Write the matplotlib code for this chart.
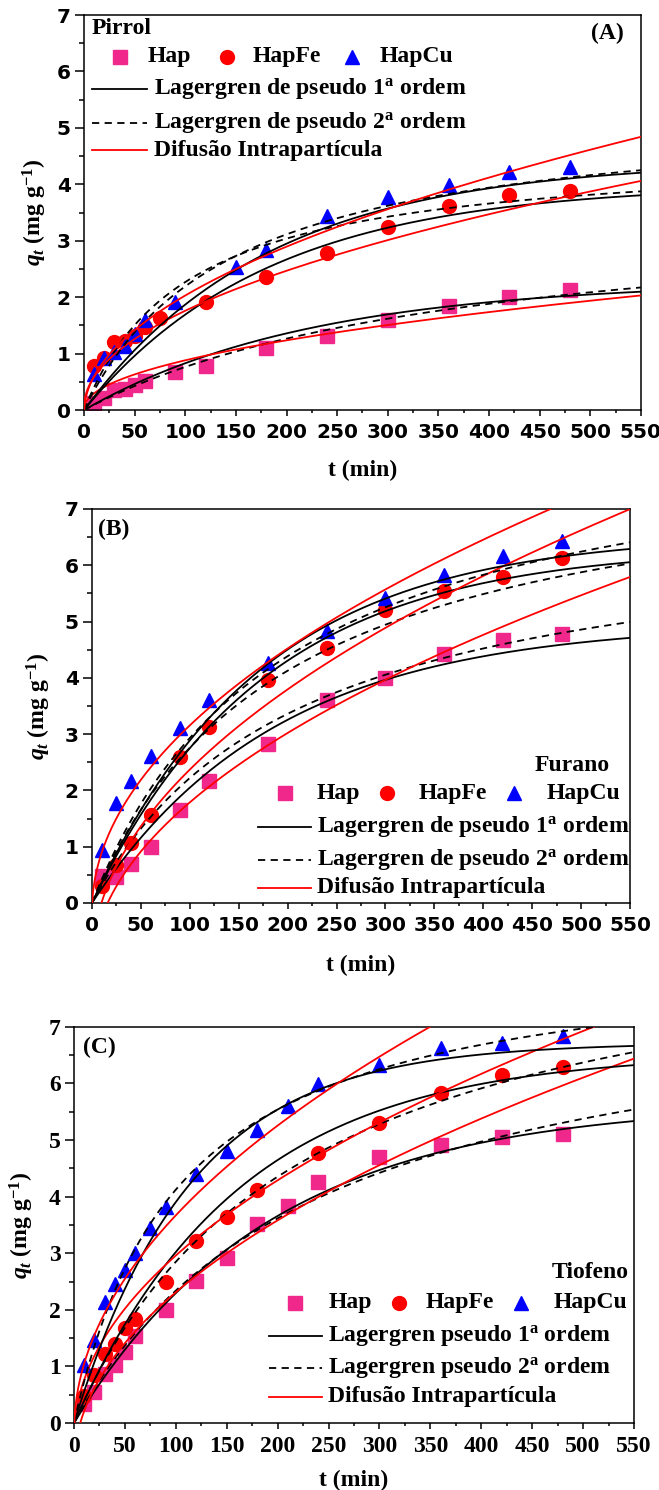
import numpy as np
import matplotlib
matplotlib.use('Agg')
import matplotlib.pyplot as plt
from matplotlib.ticker import MultipleLocator

plt.rcParams['mathtext.fontset'] = 'custom'
plt.rcParams['mathtext.rm'] = 'Liberation Serif:bold'
plt.rcParams['mathtext.it'] = 'Liberation Serif:italic:bold'
plt.rcParams['mathtext.bf'] = 'Liberation Serif:bold'

PINK = '#F0288C'
SERIF = 'Liberation Serif'
FS = 17

# ---- (A) Pirrol ----
tA_hap = [10, 20, 30, 40, 50, 60, 90, 120, 180, 240, 300, 360, 420, 480]
qA_hap = [0.12, 0.22, 0.35, 0.38, 0.44, 0.52, 0.68, 0.78, 1.10, 1.31, 1.60, 1.84, 2.00, 2.13]
tA_fe = [10, 20, 30, 40, 50, 60, 75, 120, 180, 240, 300, 360, 420, 480]
qA_fe = [0.78, 0.92, 1.20, 1.22, 1.31, 1.48, 1.63, 1.91, 2.35, 2.79, 3.25, 3.62, 3.81, 3.88]
tA_cu = [10, 20, 30, 40, 50, 60, 90, 150, 180, 240, 300, 360, 420, 480]
qA_cu = [0.64, 0.92, 1.03, 1.13, 1.35, 1.60, 1.92, 2.54, 2.83, 3.44, 3.77, 3.99, 4.22, 4.30]
# fitted parameters: pseudo 1a (qe, k1), pseudo 2a (qe, k2), difusao (kid, C)
fitA_hap = [(2.29, 0.0045), (3.68, 0.000712), (0.0854, 0.028)]
fitA_fe = [(4.00, 0.0055), (4.60, 0.002115), (0.171, 0.05)]
fitA_cu = [(4.42, 0.0055), (5.37, 0.001285), (0.209, -0.06)]

# ---- (B) Furano ----
tB = [10, 25, 40, 60, 90, 120, 180, 240, 300, 360, 420, 480]
qB_hap = [0.47, 0.46, 0.70, 0.99, 1.65, 2.17, 2.82, 3.60, 4.00, 4.43, 4.68, 4.77]
qB_fe = [0.30, 0.68, 1.06, 1.57, 2.60, 3.12, 3.97, 4.53, 5.21, 5.54, 5.80, 6.13]
qB_cu = [0.94, 1.77, 2.16, 2.61, 3.10, 3.60, 4.26, 4.83, 5.42, 5.82, 6.17, 6.44]
fitB_hap = [(4.98, 0.0053), (6.91, 0.000685), (0.2977, -1.19)]
fitB_fe = [(6.33, 0.0057), (8.19, 0.00062), (0.344, -1.07)]
fitB_cu = [(6.56, 0.0058), (8.70, 0.000584), (0.330, -0.145)]

# ---- (C) Tiofeno ----
tC_hap = [10, 20, 30, 40, 50, 60, 90, 120, 150, 180, 210, 240, 300, 360, 420, 480]
qC_hap = [0.34, 0.55, 0.87, 1.02, 1.25, 1.53, 2.00, 2.51, 2.91, 3.52, 3.84, 4.26, 4.70, 4.92, 5.06, 5.11]
tC_fe = [10, 20, 30, 40, 50, 60, 90, 120, 150, 180, 240, 300, 360, 420, 480]
qC_fe = [0.48, 0.85, 1.22, 1.39, 1.68, 1.84, 2.50, 3.22, 3.64, 4.12, 4.78, 5.31, 5.83, 6.15, 6.29]
tC_cu = [10, 20, 30, 40, 50, 60, 75, 90, 120, 150, 180, 210, 240, 300, 360, 420, 480]
qC_cu = [1.02, 1.46, 2.13, 2.46, 2.70, 3.01, 3.44, 3.81, 4.40, 4.80, 5.17, 5.61, 5.99, 6.33, 6.63, 6.71, 6.84]
fitC_hap = [(5.66, 0.0052), (7.96, 0.000523), (0.307, -0.76)]
fitC_fe = [(6.54, 0.0062), (9.22, 0.000485), (0.321, -0.25)]
fitC_cu = [(6.72, 0.0087), (8.43, 0.001136), (0.383, -0.16)]

labels_pts = ['Hap', 'HapFe', 'HapCu']
marks = [('s', PINK), ('o', 'red'), ('^', 'blue')]


def pfo(t, qe, k):
    return qe * (1 - np.exp(-k * t))


def pso(t, qe, k):
    return qe * qe * k * t / (1 + qe * k * t)


def ipd(t, kid, c):
    return kid * np.sqrt(t) + c


def panel(ax, series, fits, tickfont, ticksize):
    for (t, q), (m, c) in zip(series, marks):
        ax.plot(t, q, ls='none', marker=m, ms=10, color=c, mec=c, zorder=2)
    tt = np.linspace(0.01, 550, 800)
    for p1, p2, pd in fits:
        ax.plot(tt, pfo(tt, *p1), color='black', lw=1.3, zorder=3)
        ax.plot(tt, pso(tt, *p2), color='black', lw=1.3, ls=(0, (4, 3)), zorder=3)
        ax.plot(tt, ipd(tt, *pd), color='red', lw=1.3, zorder=3)
    ax.set_xlim(0, 550)
    ax.set_ylim(0, 7)
    ax.xaxis.set_major_locator(MultipleLocator(50))
    ax.xaxis.set_minor_locator(MultipleLocator(25))
    ax.yaxis.set_major_locator(MultipleLocator(1))
    ax.yaxis.set_minor_locator(MultipleLocator(0.5))
    ax.tick_params(axis='x', which='major', direction='out', length=4.5, width=1.1, pad=5)
    ax.tick_params(axis='x', which='minor', direction='out', length=2.5, width=1.1)
    ax.tick_params(axis='y', which='major', direction='out', length=6.5, width=1.1, pad=3)
    ax.tick_params(axis='y', which='minor', direction='out', length=3.5, width=1.1)
    for s in ax.spines.values():
        s.set_linewidth(1.1)
    plt.setp(ax.get_xticklabels() + ax.get_yticklabels(), fontfamily=tickfont,
             fontweight='bold', fontsize=ticksize)
    ax.set_xlabel('t (min)', fontfamily=SERIF, fontweight='bold', fontsize=FS)
    ax.set_ylabel(r'$q_t$ (mg g$^{-1}$)', fontfamily=SERIF, fontweight='bold', fontsize=FS)


def legend(ax, title, title_xy, title_ha, my, mxs, txs, lys, lx0, lx1, ltx, lines):
    kw = dict(transform=ax.transAxes, fontfamily=SERIF, fontweight='bold', fontsize=FS,
              va='center')
    ax.text(title_xy[0], title_xy[1], title, ha=title_ha, **kw)
    for (m, c), mx, tx, lab in zip(marks, mxs, txs, labels_pts):
        ax.plot([mx], [my], ls='none', marker=m, ms=10, color=c, transform=ax.transAxes, clip_on=False)
        ax.text(tx, my, lab, ha='left', **kw)
    styles = [dict(color='black'), dict(color='black', ls=(0, (4, 3))), dict(color='red')]
    for ly, st, lab in zip(lys, styles, lines):
        ax.plot([lx0, lx1], [ly, ly], lw=1.3, transform=ax.transAxes, **st)
        ax.text(ltx, ly, lab, ha='left', **kw)


lines_AB = ['Lagergren de pseudo $1^{\\mathrm{a}}$ ordem',
            'Lagergren de pseudo $2^{\\mathrm{a}}$ ordem',
            'Difusão Intrapartícula']
lines_C = ['Lagergren pseudo $1^{\\mathrm{a}}$ ordem',
           'Lagergren pseudo $2^{\\mathrm{a}}$ ordem',
           'Difusão Intrapartícula']

fig = plt.figure(figsize=(6.59, 14.9), dpi=100)
axA = fig.add_axes([0.1275, 0.7248, 0.845, 0.2651])
axB = fig.add_axes([0.1396, 0.3940, 0.8164, 0.2644])
axC = fig.add_axes([0.1123, 0.0450, 0.8498, 0.2658])

panel(axA, [(tA_hap, qA_hap), (tA_fe, qA_fe), (tA_cu, qA_cu)],
      [fitA_hap, fitA_fe, fitA_cu], 'DejaVu Sans', 14.5)
panel(axB, [(tB, qB_hap), (tB, qB_fe), (tB, qB_cu)],
      [fitB_hap, fitB_fe, fitB_cu], 'DejaVu Sans', 14.5)
panel(axC, [(tC_hap, qC_hap), (tC_fe, qC_fe), (tC_cu, qC_cu)],
      [fitC_hap, fitC_fe, fitC_cu], SERIF, 17)

axA.yaxis.set_label_coords(-0.063, 0.5)
axB.yaxis.set_label_coords(-0.072, 0.5)
axC.yaxis.set_label_coords(-0.068, 0.5)
axA.xaxis.set_label_coords(0.5, -0.127)
axB.xaxis.set_label_coords(0.5, -0.132)
axC.xaxis.set_label_coords(0.5, -0.119)

legend(axA, 'Pirrol', (0.014, 0.967), 'left', 0.894, [0.065, 0.257, 0.481], [0.115, 0.303, 0.531],
       [0.813, 0.727, 0.658], 0.014, 0.113, 0.126, lines_AB)
axA.text(0.939, 0.954, '(A)', transform=axA.transAxes, ha='center', va='center',
         fontfamily=SERIF, fontweight='bold', fontsize=FS)

legend(axB, 'Furano', (0.892, 0.350), 'center', 0.279, [0.359, 0.548, 0.784], [0.417, 0.608, 0.845],
       [0.193, 0.109, 0.038], 0.309, 0.407, 0.419, lines_AB)
axB.text(0.041, 0.949, '(B)', transform=axB.transAxes, ha='center', va='center',
         fontfamily=SERIF, fontweight='bold', fontsize=FS)

legend(axC, 'Tiofeno', (0.921, 0.379), 'center', 0.303, [0.395, 0.580, 0.798], [0.454, 0.627, 0.857],
       [0.220, 0.139, 0.066], 0.348, 0.443, 0.454, lines_C)
axC.text(0.045, 0.949, '(C)', transform=axC.transAxes, ha='center', va='center',
         fontfamily=SERIF, fontweight='bold', fontsize=FS)

fig.savefig('out.png', dpi=100)
